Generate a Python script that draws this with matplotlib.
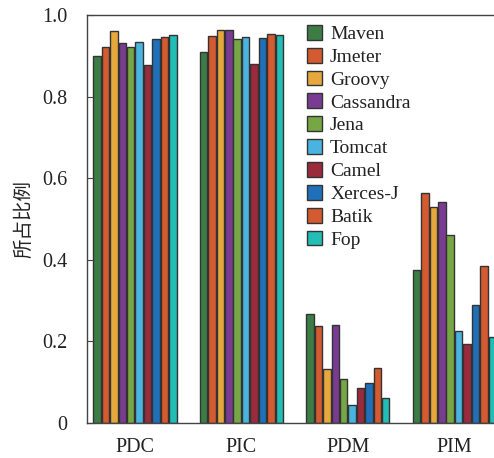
import matplotlib.pyplot as plt
import numpy as np

groups = ["PDC", "PIC", "PDM", "PIM"]
projects = ["Maven", "Jmeter", "Groovy", "Cassandra", "Jena",
            "Tomcat", "Camel", "Xerces-J", "Batik", "Fop"]
colors = ["#3b7d45", "#d45a2f", "#e6a83c", "#7a3c93", "#77a645",
          "#4ab4e0", "#9b2a3c", "#1f70b8", "#d45a2f", "#22bdb5"]

# one row per project, columns PDC, PIC, PDM, PIM
values = {
    "Maven":     [0.900, 0.910, 0.266, 0.376],
    "Jmeter":    [0.921, 0.949, 0.237, 0.563],
    "Groovy":    [0.960, 0.964, 0.133, 0.529],
    "Cassandra": [0.931, 0.964, 0.240, 0.541],
    "Jena":      [0.922, 0.942, 0.107, 0.461],
    "Tomcat":    [0.933, 0.945, 0.043, 0.226],
    "Camel":     [0.877, 0.879, 0.085, 0.193],
    "Xerces-J":  [0.940, 0.943, 0.098, 0.288],
    "Batik":     [0.947, 0.953, 0.136, 0.385],
    "Fop":       [0.950, 0.950, 0.062, 0.212],
}

plt.rcParams['font.family'] = ['Liberation Serif', 'Noto Sans CJK SC']
my_dpi = 100
fig = plt.figure(figsize=(494/my_dpi, 458/my_dpi), dpi=my_dpi)
ax = fig.add_axes([87/494, 35/458, 410/494, 408/458])

x = np.arange(len(groups))
pitch = 0.079
width = 0.07
for i, name in enumerate(projects):
    off = (i - 4.5) * pitch
    ax.bar(x + off, values[name], width, color=colors[i], edgecolor="#333333",
           linewidth=1.0, label=name)

ax.set_xlim(-0.45, 3.40)
ax.set_ylim(0, 1.0)
ax.set_xticks(x)
ax.set_xticklabels(groups)
ax.set_yticks([0, 0.2, 0.4, 0.6, 0.8, 1.0])
ax.set_yticklabels(["0", "0.2", "0.4", "0.6", "0.8", "1.0"])
ax.tick_params(axis='x', length=0, pad=11, labelsize=14.5, colors="#222222")
ax.tick_params(axis='y', direction='in', length=5, pad=14, labelsize=14.5,
               colors="#444444", labelcolor="#222222")
for s in ax.spines.values():
    s.set_color("#444444")
    s.set_linewidth(1.0)
ax.spines['right'].set_visible(False)

ax.set_ylabel("所占比例", family=['Noto Sans CJK SC'], fontsize=14, color="#222222",
              labelpad=6)

leg = ax.legend(loc='upper left', bbox_to_anchor=(0.517, 0.995), frameon=False,
                fontsize=14, handlelength=0.8, handleheight=0.8,
                labelspacing=0.24, handletextpad=0.4, borderaxespad=0)
for t in leg.get_texts():
    t.set_color("#222222")

plt.savefig("out.png", dpi=my_dpi)
